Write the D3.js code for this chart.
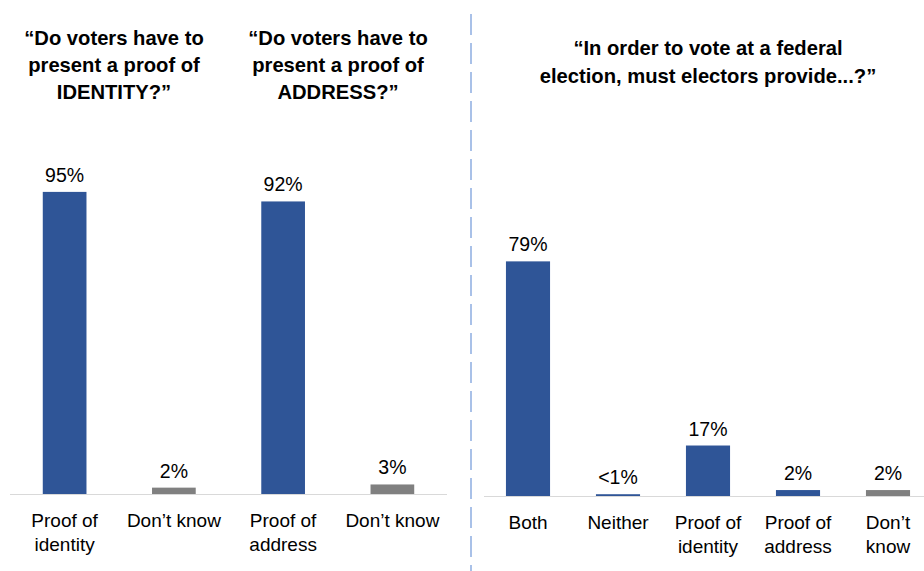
<!DOCTYPE html>
<html>
<head>
<meta charset="utf-8">
<script src="https://cdn.jsdelivr.net/npm/d3@7"></script>
<style>
  html, body { margin: 0; padding: 0; background: #fff; }
  svg { display: block; font-family: "Liberation Sans", Arial, sans-serif; }
</style>
</head>
<body>
<svg id="chart" width="924" height="571"></svg>
<script>
// Left panel: two questions, two answers each
const leftCategories = ["Proof of identity", "Don\u2019t know", "Proof of address", "Don\u2019t know "];
const leftValues = [95, 2, 92, 3];
const leftLabels = ["95%", "2%", "92%", "3%"];
const leftKinds = ["main", "dk", "main", "dk"];
const leftTitles = [
  ["\u201cDo voters have to", "present a proof of", "IDENTITY?\u201d"],
  ["\u201cDo voters have to", "present a proof of", "ADDRESS?\u201d"]
];

// Right panel: one question, five answers
const rightCategories = ["Both", "Neither", "Proof of identity", "Proof of address", "Don\u2019t know"];
const rightValues = [79, 0.6, 17, 2, 2];
const rightLabels = ["79%", "<1%", "17%", "2%", "2%"];
const rightKinds = ["main", "main", "main", "main", "dk"];
const rightTitle = ["\u201cIn order to vote at a federal", "election, must electors provide...?\u201d"];

// Category labels broken over lines
const leftCatLines = {
  "Proof of identity": ["Proof of", "identity"],
  "Don\u2019t know": ["Don\u2019t know"],
  "Don\u2019t know ": ["Don\u2019t know"],
  "Proof of address": ["Proof of", "address"]
};
const rightCatLines = {
  "Both": ["Both"],
  "Neither": ["Neither"],
  "Proof of identity": ["Proof of", "identity"],
  "Proof of address": ["Proof of", "address"],
  "Don\u2019t know": ["Don\u2019t", "know"]
};

const colors = { main: "#2F5597", dk: "#808080" };
const svg = d3.select("#chart");

function panel(cfg) {
  const x = d3.scaleBand().domain(cfg.categories).range([cfg.x0, cfg.x1])
    .paddingInner(cfg.padInner).paddingOuter(cfg.padOuter);
  const y = d3.scaleLinear().domain([0, 100]).range([cfg.base, cfg.base - cfg.h100]);
  const g = svg.append("g");

  // baseline
  g.append("line")
    .attr("x1", cfg.axis0).attr("x2", cfg.axis1)
    .attr("y1", cfg.base + 0.5).attr("y2", cfg.base + 0.5)
    .attr("stroke", "#d9d9d9").attr("stroke-width", 1);

  const data = cfg.categories.map((c, i) => ({ c, v: cfg.values[i], label: cfg.labels[i], kind: cfg.kinds[i] }));

  g.selectAll("rect.bar").data(data).join("rect")
    .attr("class", "bar")
    .attr("x", d => x(d.c))
    .attr("width", x.bandwidth())
    .attr("y", d => y(d.v))
    .attr("height", d => y(0) - y(d.v))
    .attr("fill", d => colors[d.kind]);

  g.selectAll("text.val").data(data).join("text")
    .attr("class", "val")
    .attr("x", d => x(d.c) + x.bandwidth() / 2)
    .attr("y", d => y(d.v) - 10)
    .attr("text-anchor", "middle")
    .attr("font-size", 19.5)
    .attr("fill", "#000")
    .text(d => d.label);

  const cats = g.selectAll("text.cat").data(data).join("text")
    .attr("class", "cat")
    .attr("text-anchor", "middle")
    .attr("font-size", 19)
    .attr("fill", "#000");
  cats.each(function(d) {
    const lines = cfg.lines[d.c];
    d3.select(this).selectAll("tspan").data(lines).join("tspan")
      .attr("x", x(d.c) + x.bandwidth() / 2)
      .attr("y", (l, i) => cfg.base + 33 + i * 24)
      .text(l => l);
  });
  return x;
}

panel({
  categories: leftCategories, values: leftValues, labels: leftLabels, kinds: leftKinds,
  x0: 10, x1: 447, axis0: 10, axis1: 447, base: 494, h100: 318,
  padInner: 0.6, padOuter: 0.3, lines: leftCatLines
});
panel({
  categories: rightCategories, values: rightValues, labels: rightLabels, kinds: rightKinds,
  x0: 483, x1: 933, axis0: 484, axis1: 924, base: 496, h100: 297,
  padInner: 0.51, padOuter: 0.255, lines: rightCatLines
});

// Question titles
function title(lines, cx, y0, step) {
  const t = svg.append("text")
    .attr("text-anchor", "middle")
    .attr("font-size", 20.2)
    .attr("font-weight", "bold")
    .attr("fill", "#000");
  t.selectAll("tspan").data(lines).join("tspan")
    .attr("x", cx)
    .attr("y", (l, i) => y0 + i * step)
    .text(l => l);
}
title(leftTitles[0], 114, 45, 27);
title(leftTitles[1], 338, 45, 27);
title(rightTitle, 708, 55, 28);

// dashed divider between panels
svg.append("line")
  .attr("x1", 471).attr("x2", 471)
  .attr("y1", 14).attr("y2", 571)
  .attr("stroke", "#a9c1e8").attr("stroke-width", 2)
  .attr("stroke-dasharray", "21,8");
</script>
</body>
</html>
